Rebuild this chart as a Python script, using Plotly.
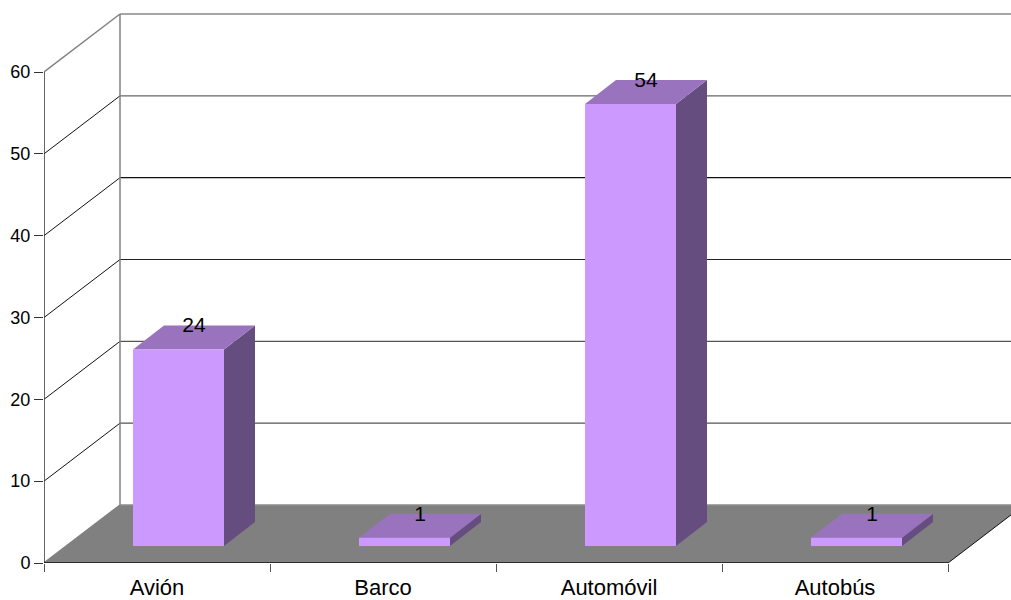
import plotly.graph_objects as go

categories = ["Avión", "Barco", "Automóvil", "Autobús"]
values = [24, 1, 54, 1]
y_ticks = [0, 10, 20, 30, 40, 50, 60]

FONT = "Liberation Sans, Arial, sans-serif"
W, H = 1011, 600
ML, MR, MT, MB = 44, 0, 10, 37
PX_X = 226.0      # pixels per category
PX_Y = 491 / 60   # pixels per value unit
DX = 76 / PX_X    # chart depth in data units
DY = 58 / PX_Y
BAR_L = 89 / PX_X
BAR_W = 91 / PX_X
BAR_BASE = 17 / PX_Y
BAR_DX = 31 / PX_X
BAR_DY = 24 / PX_Y
GRID_COL = {0: "#808080", 10: "#555555", 20: "#555555", 30: "#222222",
            40: "#111111", 50: "#666666", 60: "#888888"}
n = len(categories)

fig = go.Figure()


def poly(xs, ys, color):
    fig.add_trace(go.Scatter(x=xs, y=ys, mode="lines", fill="toself", fillcolor=color,
                             line=dict(width=0, color=color), hoverinfo="skip", showlegend=False))


def seg(xs, ys, color, width=1.0):
    fig.add_trace(go.Scatter(x=xs, y=ys, mode="lines", line=dict(color=color, width=width),
                             hoverinfo="skip", showlegend=False))


# floor
poly([0, DX, n + DX + 1, n + DX + 1, n + DX, n, 0],
     [0, DY, DY, DY, DY, 0, 0], "#808080")
seg([0, DX], [0, DY], "#808080", 1.5)
seg([DX, n + 1], [DY, DY], "#8c8c8c", 1.5)

# walls and gridlines
for t in y_ticks[1:]:
    col = GRID_COL[t]
    seg([DX, n + 1], [t + DY, t + DY], col, 1.5 if t == 60 else 1.2)
    seg([0, DX], [t, t + DY], "#808080" if t == 60 else "#111111", 1.5 if t == 60 else 1)
seg([DX, DX], [DY, y_ticks[-1] + DY], "#808080", 1.5)
seg([n, n + DX], [0, DY], "#111111", 1)

# axes
seg([0, 0], [0, y_ticks[-1]], "#333333", 1.5)
seg([0, n], [0, 0], "#111111", 1.5)

# bars
label_x, label_y = [], []
for i, v in enumerate(values):
    x0 = i + BAR_L
    x1 = x0 + BAR_W
    y0 = BAR_BASE
    y1 = BAR_BASE + v
    poly([x1, x1 + BAR_DX, x1 + BAR_DX, x1, x1],
         [y0, y0 + BAR_DY, y1 + BAR_DY, y1, y0], "#664D80")
    poly([x0, x1, x1 + BAR_DX, x0 + BAR_DX, x0],
         [y1, y1, y1 + BAR_DY, y1 + BAR_DY, y1], "#9A73BF")
    poly([x0, x1, x1, x0, x0], [y0, y0, y1, y1, y0], "#CC99FF")
    label_x.append(x0 + BAR_W / 2 + BAR_DX / 2)
    label_y.append(y1 + BAR_DY / 2)

fig.add_trace(go.Scatter(x=label_x, y=label_y, mode="text", text=[str(v) for v in values],
                         textposition="top center", textfont=dict(family=FONT, size=21, color="#000000"),
                         hoverinfo="skip", showlegend=False))

fig.update_layout(
    width=W, height=H, margin=dict(l=ML, r=MR, t=MT, b=MB, autoexpand=False),
    paper_bgcolor="#ffffff", plot_bgcolor="#ffffff", showlegend=False,
    xaxis=dict(range=[0, (W - ML - MR) / PX_X], showgrid=False, zeroline=False, showline=False,
               automargin=False,
               tickvals=[i + 0.5 for i in range(n)], ticktext=categories,
               ticks="outside", ticklen=5, tickcolor="rgba(0,0,0,0)",
               tickfont=dict(family=FONT, size=22, color="#000000"),
               minor=dict(tickvals=list(range(n + 1)), ticks="outside", ticklen=8,
                          tickcolor="#555555", tickwidth=1.2, showgrid=False)),
    yaxis=dict(range=[0, (H - MT - MB) / PX_Y], showgrid=False, zeroline=False, showline=False,
               automargin=False,
               tickvals=y_ticks, ticktext=[str(t) for t in y_ticks],
               ticks="outside", ticklen=9, tickcolor="#333333", tickwidth=1.2,
               tickfont=dict(family=FONT, size=18, color="#000000")),
)

fig.write_html("out.html", config={"displayModeBar": False},
               post_script="document.body.style.margin='0';document.body.style.overflow='hidden';")
